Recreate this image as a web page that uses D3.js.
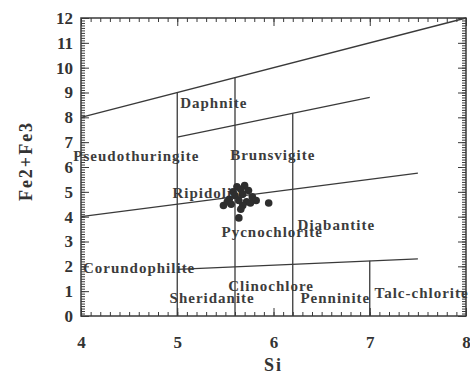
<!DOCTYPE html>
<html>
<head>
<meta charset="utf-8">
<script src="https://cdn.jsdelivr.net/npm/d3@7"></script>
<style>
  body { margin: 0; background: #fff; }
  text { font-family: "Liberation Serif", "Times New Roman", serif; font-weight: bold; }
</style>
</head>
<body>
<div id="chart"></div>
<script>
// sample analyses (Si vs Fe2+Fe3)
var siValues = [5.62, 5.70, 5.66, 5.58, 5.74, 5.60, 5.68, 5.78, 5.54, 5.64, 5.72, 5.82, 5.48, 5.56, 5.68, 5.76, 5.95, 5.64, 5.66, 5.52];
var feValues = [5.20, 5.25, 5.10, 5.00, 5.05, 4.85, 4.90, 4.80, 4.70, 4.65, 4.60, 4.65, 4.45, 4.50, 4.45, 4.55, 4.55, 3.95, 4.30, 4.60];

// field boundaries, [Si, Fe] end points
var boundaryStart = [[4, 8], [5, 7.2], [4, 4], [5, 1.88], [5, 9], [5.6, 9.6], [6.2, 8.16], [7, 2.22]];
var boundaryEnd   = [[8, 12], [7, 8.8], [7.5, 5.75], [7.5, 2.3], [5, 0], [5.6, 0], [6.2, 0], [7, 0]];

// field names and where they sit
var fieldNames = ["Daphnite", "Brunsvigite", "Pseudothuringite", "Ripidolite", "Pycnochlorite", "Diabantite",
                  "Corundophilite", "Clinochlore", "Sheridanite", "Penninite", "Talc-chlorite"];
var fieldSi = [5.03, 5.55, 3.92, 4.95, 5.46, 6.25, 4.02, 5.53, 4.92, 6.28, 7.05];
var fieldFe = [8.36, 6.30, 6.26, 4.77, 3.19, 3.47, 1.74, 1.01, 0.53, 0.53, 0.73];

var xTicks = [4, 5, 6, 7, 8];
var yTicks = [0, 1, 2, 3, 4, 5, 6, 7, 8, 9, 10, 11, 12];

var margin = {top: 18, right: 4, bottom: 60, left: 81},
    width = 470 - margin.left - margin.right,
    height = 376 - margin.top - margin.bottom;

var svg = d3.select("#chart").append("svg")
    .attr("width", 470)
    .attr("height", 376)
  .append("g")
    .attr("transform", "translate(" + margin.left + "," + margin.top + ")");

var x = d3.scaleLinear().domain([4, 8]).range([0, width]);
var y = d3.scaleLinear().domain([0, 12]).range([height, 0]);

var ink = "#3a3a3a";

// minor ticks every 0.1 on both axes
var xMinor = d3.range(40, 81).map(function(d) { return d / 10; });
var yMinor = d3.range(0, 121).map(function(d) { return d / 10; });

function tickAxis(axis, vals, size, tr, labels) {
    var g = svg.append("g")
        .attr("transform", tr)
        .call(axis.tickValues(vals).tickSize(-size).tickFormat(labels ? d3.format("d") : ""));
    g.select(".domain").remove();
    g.selectAll("line").attr("stroke", ink).attr("stroke-width", 1);
    return g;
}

tickAxis(d3.axisBottom(x), xMinor, 4, "translate(0," + height + ")");
tickAxis(d3.axisTop(x), xMinor, 4, "translate(0,0)");
tickAxis(d3.axisLeft(y), yMinor, 4, "translate(0,0)");
tickAxis(d3.axisRight(y), yMinor, 4, "translate(" + width + ",0)");
tickAxis(d3.axisTop(x), xTicks, 8, "translate(0,0)");
tickAxis(d3.axisRight(y), yTicks, 8, "translate(" + width + ",0)");

var xa = tickAxis(d3.axisBottom(x), xTicks, 8, "translate(0," + height + ")", true);
xa.selectAll("text")
    .attr("y", 20)
    .attr("font-size", 17)
    .attr("fill", "#333");

var ya = tickAxis(d3.axisLeft(y), yTicks, 8, "translate(0,0)", true);
ya.selectAll("text")
    .attr("x", -8)
    .attr("font-size", 17)
    .attr("fill", "#333");

// frame
svg.append("rect")
    .attr("width", width)
    .attr("height", height)
    .attr("fill", "none")
    .attr("stroke", ink)
    .attr("stroke-width", 1.5);

// field labels (under the lines and points)
svg.selectAll(".field").data(fieldNames).enter().append("text")
    .attr("class", "field")
    .attr("x", function(d, i) { return x(fieldSi[i]); })
    .attr("y", function(d, i) { return y(fieldFe[i]); })
    .attr("font-size", 15)
    .attr("letter-spacing", 1)
    .attr("fill", "#3c3c3c")
    .text(function(d) { return d; });

// boundaries
svg.selectAll(".boundary").data(boundaryStart).enter().append("line")
    .attr("class", "boundary")
    .attr("x1", function(d) { return x(d[0]); })
    .attr("y1", function(d) { return y(d[1]); })
    .attr("x2", function(d, i) { return x(boundaryEnd[i][0]); })
    .attr("y2", function(d, i) { return y(boundaryEnd[i][1]); })
    .attr("stroke", ink)
    .attr("stroke-width", 1.3);

// samples
svg.selectAll(".pt").data(siValues).enter().append("circle")
    .attr("class", "pt")
    .attr("cx", function(d) { return x(d); })
    .attr("cy", function(d, i) { return y(feValues[i]); })
    .attr("r", 3.8)
    .attr("fill", "#2e2e2e");

// axis titles
svg.append("text")
    .attr("x", width / 2)
    .attr("y", height + 55)
    .attr("text-anchor", "middle")
    .attr("font-size", 18)
    .attr("letter-spacing", 2)
    .attr("fill", "#333")
    .text("Si");

svg.append("text")
    .attr("transform", "translate(" + (-49) + "," + (height / 2 - 6) + ") rotate(-90)")
    .attr("text-anchor", "middle")
    .attr("font-size", 18)
    .attr("letter-spacing", 2)
    .attr("fill", "#333")
    .text("Fe2+Fe3");
</script>
</body>
</html>
